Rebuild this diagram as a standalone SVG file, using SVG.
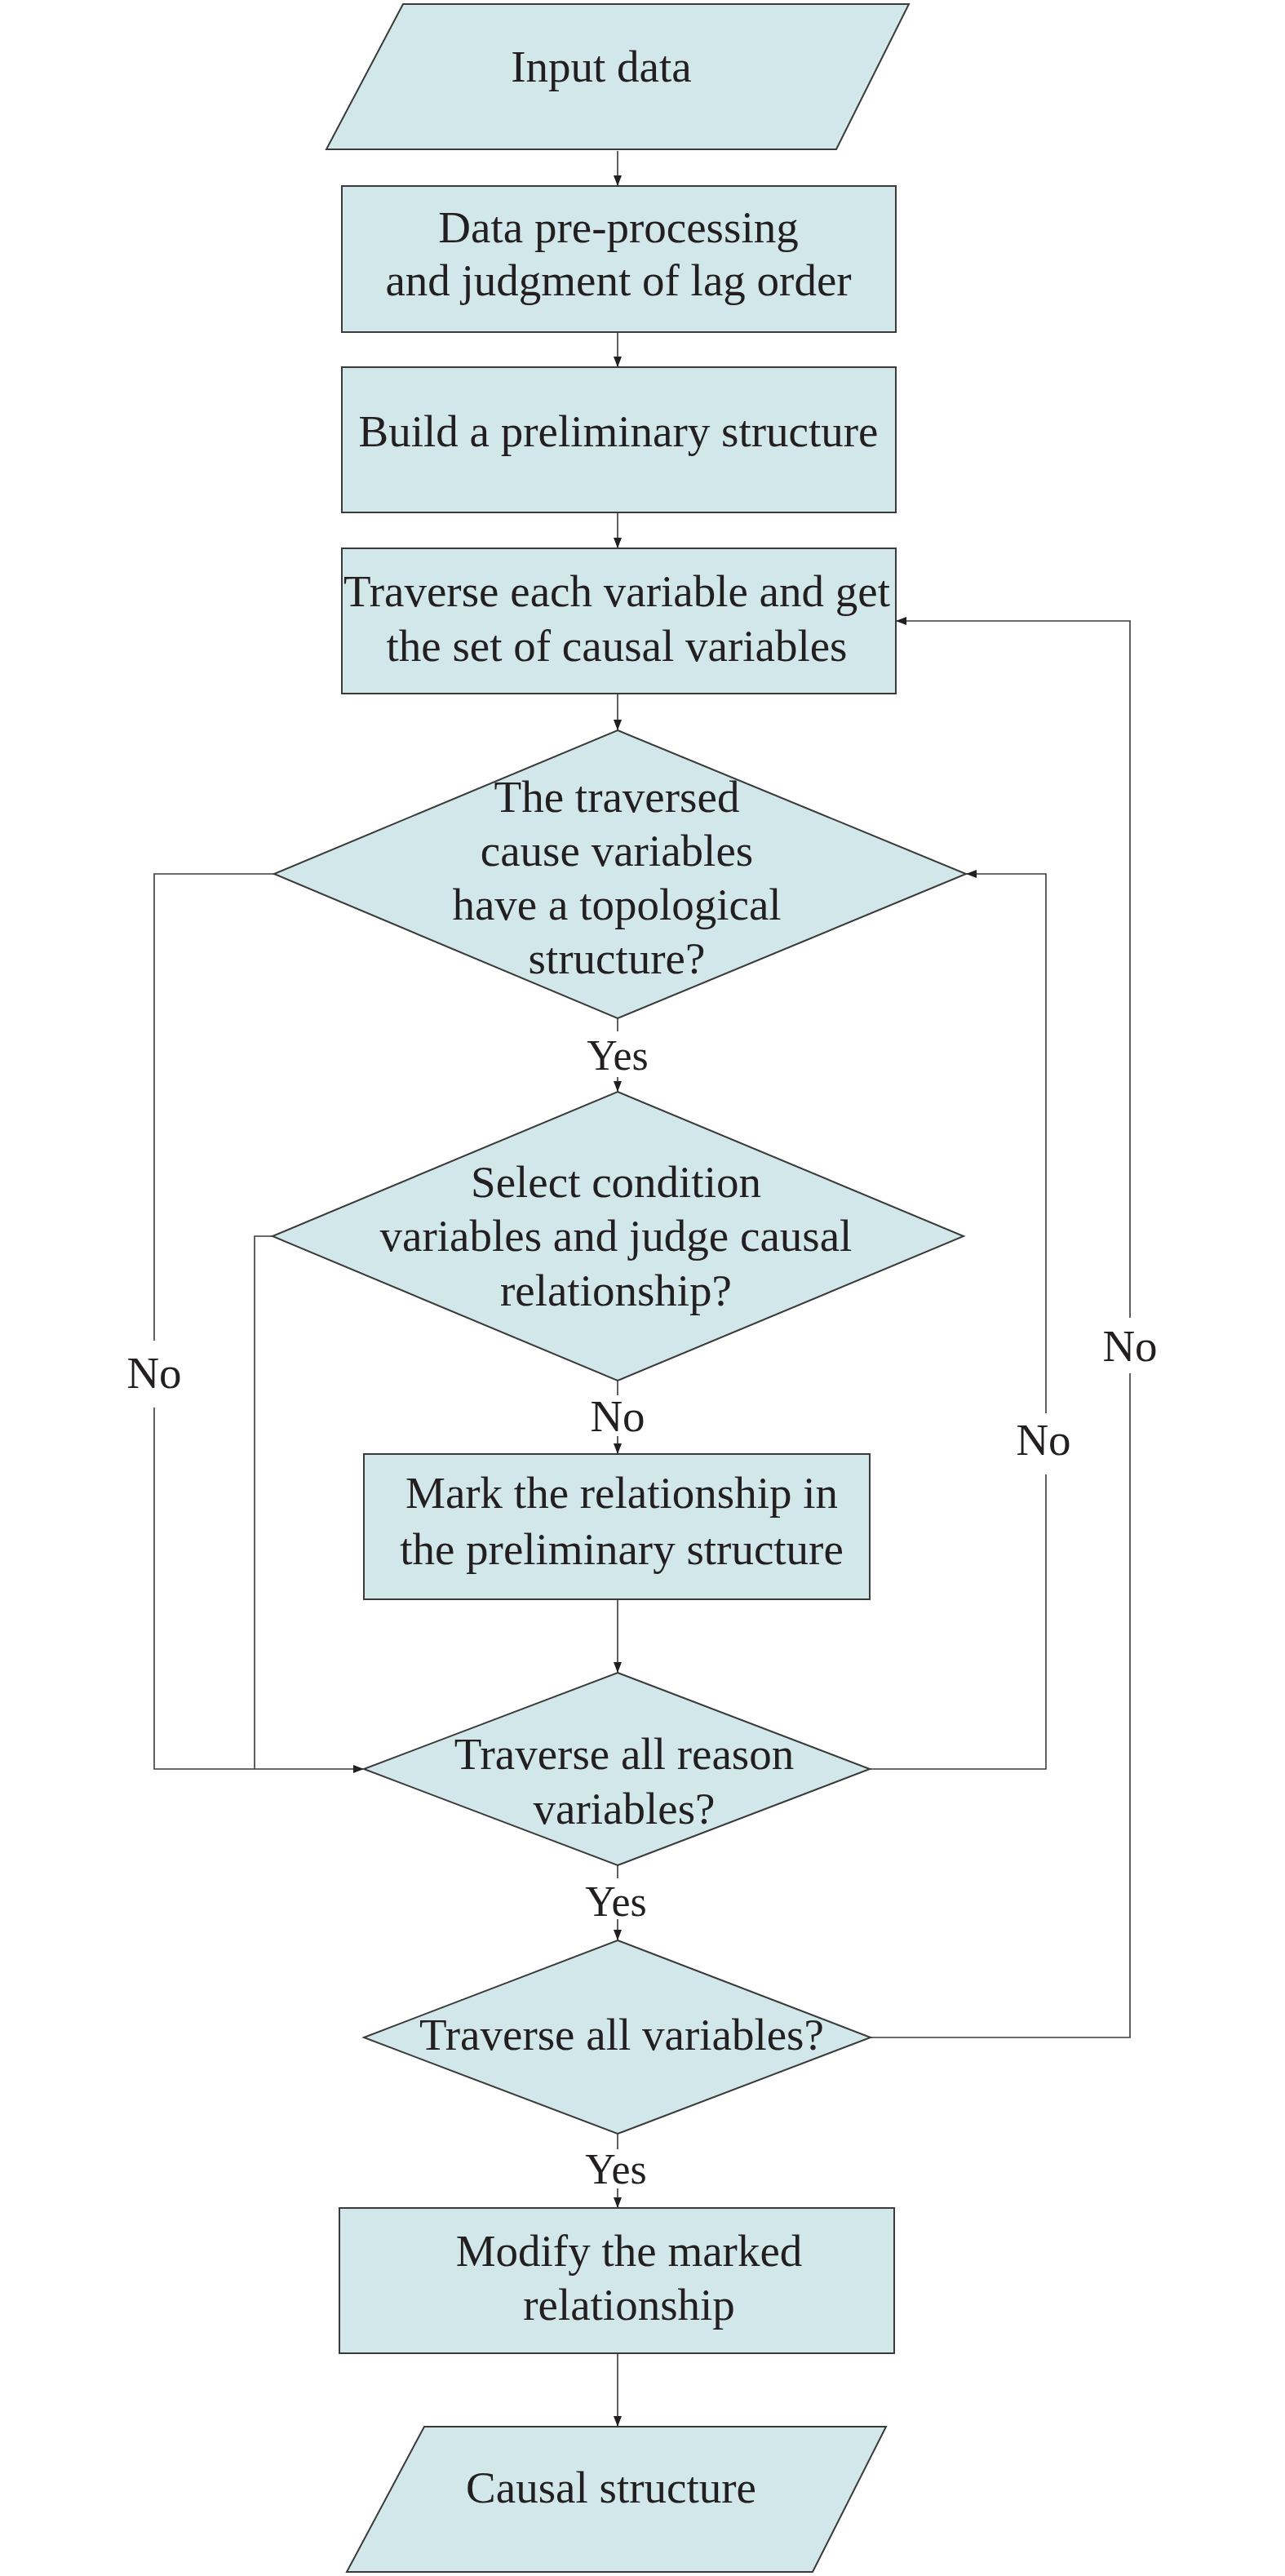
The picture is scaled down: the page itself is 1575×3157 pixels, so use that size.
<svg xmlns="http://www.w3.org/2000/svg" width="1575" height="3157" viewBox="0 0 1575 3157">
<style>
.n{fill:#d1e7ea;stroke:#3a3a3a;stroke-width:2}
.t{font-family:"Liberation Serif","Times New Roman",serif;font-size:55px;fill:#231f20;text-anchor:middle}
.l{font-family:"Liberation Serif","Times New Roman",serif;fill:#231f20;text-anchor:middle}
.c{fill:none;stroke:#3a3a3a;stroke-width:1.6}
</style>
<defs>
<marker id="a" markerUnits="userSpaceOnUse" markerWidth="13" markerHeight="10" refX="13" refY="5" orient="auto">
<path d="M0,0 L13,5 L0,10 z" fill="#231f20"/>
</marker>
</defs>
<rect width="1575" height="3157" fill="#fff"/>
<g id="connectors">
<path class="c" d="M757,185 V228" marker-end="url(#a)"/>
<path class="c" d="M757,407 V450" marker-end="url(#a)"/>
<path class="c" d="M757,628 V672" marker-end="url(#a)"/>
<path class="c" d="M757,850 V895" marker-end="url(#a)"/>
<path class="c" d="M757,1248 V1264"/>
<path class="c" d="M757,1320 V1338" marker-end="url(#a)"/>
<path class="c" d="M757,1692 V1710"/>
<path class="c" d="M757,1760 V1782" marker-end="url(#a)"/>
<path class="c" d="M757,1960 V2050" marker-end="url(#a)"/>
<path class="c" d="M757,2286 V2302"/>
<path class="c" d="M757,2352 V2378" marker-end="url(#a)"/>
<path class="c" d="M757,2615 V2634"/>
<path class="c" d="M757,2682 V2706" marker-end="url(#a)"/>
<path class="c" d="M757,2884 V2974" marker-end="url(#a)"/>
<path class="c" d="M336,1071 H189 V1643"/>
<path class="c" d="M189,1725 V2168 H446" marker-end="url(#a)"/>
<path class="c" d="M334,1515 H312 V2168"/>
<path class="c" d="M1066,2168 H1282 V1807"/>
<path class="c" d="M1282,1732 V1071 H1184" marker-end="url(#a)"/>
<path class="c" d="M1067,2497 H1385 V1683"/>
<path class="c" d="M1385,1615 V761 H1098" marker-end="url(#a)"/>
<text class="l" font-size="52" x="757" y="1311">Yes</text>
<text class="l" font-size="55" x="757" y="1754">No</text>
<text class="l" font-size="52" x="755" y="2348">Yes</text>
<text class="l" font-size="52" x="755" y="2676">Yes</text>
<text class="l" font-size="55" x="189" y="1701">No</text>
<text class="l" font-size="55" x="1279" y="1783">No</text>
<text class="l" font-size="55" x="1385" y="1668">No</text>
</g>
<g id="input">
<polygon class="n" points="494,5 1114,5 1025,183 400,183"/>
<text class="t" x="737" y="100">Input data</text>
</g>
<g id="preprocess">
<rect class="n" x="419" y="228" width="679" height="179"/>
<text class="t" x="758" y="297">Data pre-processing</text>
<text class="t" x="758" y="362">and judgment of lag order</text>
</g>
<g id="build">
<rect class="n" x="419" y="450" width="679" height="178"/>
<text class="t" x="758" y="547">Build a preliminary structure</text>
</g>
<g id="traverse-each">
<rect class="n" x="419" y="672" width="679" height="178"/>
<text class="t" x="756" y="743">Traverse each variable and get</text>
<text class="t" x="756" y="810">the set of causal variables</text>
</g>
<g id="topology">
<polygon class="n" points="757,895 1184,1071 757,1248 336,1071"/>
<text class="t" x="756" y="995">The traversed</text>
<text class="t" x="756" y="1061">cause variables</text>
<text class="t" x="756" y="1127">have a topological</text>
<text class="t" x="756" y="1193">structure?</text>
</g>
<g id="select">
<polygon class="n" points="757,1338 1181,1515 757,1692 334,1515"/>
<text class="t" x="755" y="1467">Select condition</text>
<text class="t" x="755" y="1533">variables and judge causal</text>
<text class="t" x="755" y="1600">relationship?</text>
</g>
<g id="mark">
<rect class="n" x="446" y="1782" width="620" height="178"/>
<text class="t" x="762" y="1848">Mark the relationship in</text>
<text class="t" x="762" y="1917">the preliminary structure</text>
</g>
<g id="traverse-reason">
<polygon class="n" points="757,2050 1066,2168 757,2286 446,2168"/>
<text class="t" x="765" y="2168">Traverse all reason</text>
<text class="t" x="765" y="2235">variables?</text>
</g>
<g id="traverse-all">
<polygon class="n" points="757,2378 1067,2497 757,2615 446,2497"/>
<text class="t" x="762" y="2512">Traverse all variables?</text>
</g>
<g id="modify">
<rect class="n" x="416" y="2706" width="680" height="178"/>
<text class="t" x="771" y="2777">Modify the marked</text>
<text class="t" x="771" y="2843">relationship</text>
</g>
<g id="output">
<polygon class="n" points="520,2974 1086,2974 996,3152 425,3152"/>
<text class="t" x="749" y="3067">Causal structure</text>
</g>
</svg>
